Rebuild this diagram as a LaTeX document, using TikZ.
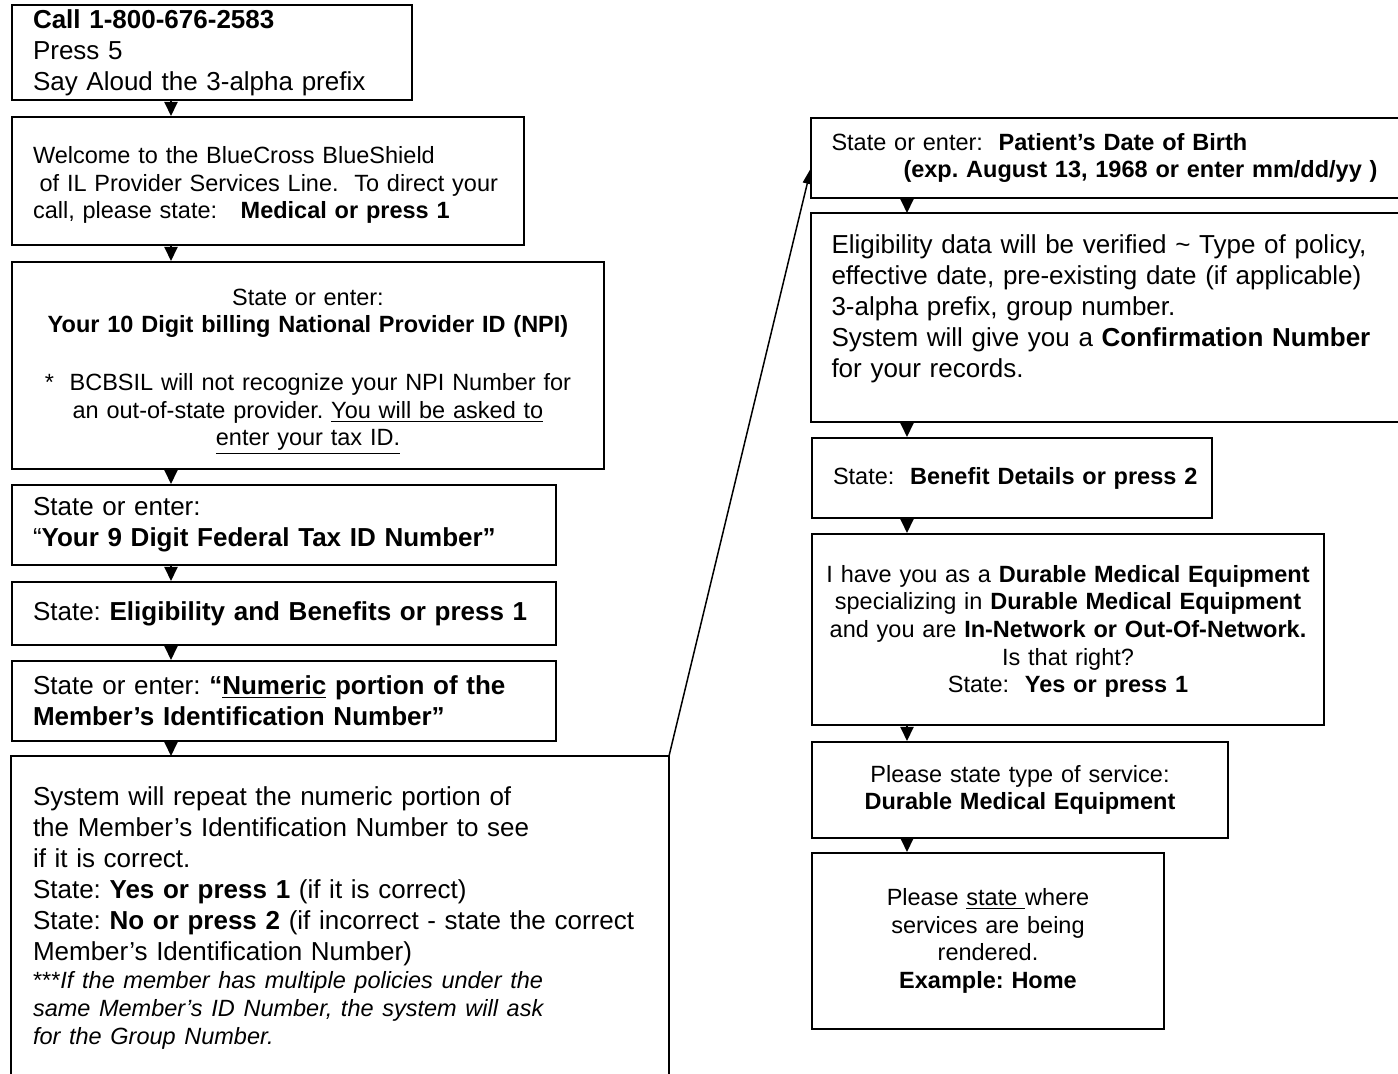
\documentclass[tikz,border=0pt]{standalone}
\usepackage{fontspec}
\setmainfont{Liberation Sans}
\usetikzlibrary{arrows.meta,calc}
\newcommand\szA{\fontsize{13.0pt}{15.5pt}\selectfont}
\newcommand\szB{\fontsize{11.75pt}{13.8pt}\selectfont}
\newcommand\LL[1]{\mbox{#1}}
\frenchspacing
\begin{document}
\begin{tikzpicture}[x=0.5pt,y=-0.5pt,
  box/.style={draw=black, line width=1pt, inner sep=0pt, anchor=north west, align=left},
  obox/.style={box, draw=none},
  cbox/.style={box, align=center},
  edge/.style={line width=1pt, line join=miter},
  tri/.style={line width=1pt, -{Triangle[length=7pt,width=6.5pt]}},
  slant/.style={line width=0.75pt, -{Triangle[length=8pt,width=4.5pt]}}]
\useasboundingbox (0,0) rectangle (1398,1074);

% ---------------- left column ----------------
\node[box, minimum width=200pt, minimum height=47.5pt, text width=179pt, font=\szA] (b1) at (11,4)
 {\LL{\textbf{Call 1-800-676-2583}}\\ \LL{Press 5}\\ \LL{Say Aloud the 3-alpha prefix}};

\node[box, minimum width=256pt, minimum height=64pt, text width=235pt, font=\szB] (b2) at (11,116)
 {\LL{\rule{0pt}{12.5pt}Welcome to the BlueCross BlueShield}\\
  \LL{\hspace*{0.28em}of IL Provider Services Line.~ To direct your}\\
  \LL{call, please state:~~ \textbf{Medical or press 1}}};

\node[cbox, minimum width=296pt, minimum height=103.5pt, text width=290pt, font=\szB] (b3) at (11,261)
 {\rule{0pt}{14.5pt}State or enter:\\
  \textbf{Your 10 Digit billing National Provider ID (NPI)}\\[15pt]
  *~ BCBSIL will not recognize your NPI Number for\\
  an out-of-state provider. \underline{You will be asked to}\\
  \underline{enter your tax ID.}};

\node[box, minimum width=272pt, minimum height=40pt, text width=251pt, font=\szA] (b4) at (11,484)
 {\LL{State or enter:}\\ \LL{“\textbf{Your 9 Digit Federal Tax ID Number”}}};

\node[box, minimum width=272pt, minimum height=31.5pt, text width=251pt, font=\szA] (b5) at (11,581)
 {\LL{State: \textbf{Eligibility and Benefits or press 1}}};

\node[box, minimum width=272pt, minimum height=40pt, text width=251pt, font=\szA] (b6) at (11,660)
 {\LL{State or enter: \textbf{“\underline{Numeric} portion of the}}\\
  \LL{\textbf{Member’s Identification Number”}}};

\node[obox, minimum width=328pt, minimum height=159pt, text width=307pt, font=\szA] (b7) at (11,756)
 {\LL{\rule{0pt}{11.6pt}System will repeat the numeric portion of}\\
  \LL{the Member’s Identification Number to see}\\
  \LL{if it is correct.}\\
  \LL{State: \textbf{Yes or press 1} (if it is correct)}\\
  \LL{State: \textbf{No or press 2} (if incorrect - state the correct}\\
  \LL{Member’s Identification Number)}\\[-1.5pt]
  \LL{\szB ***\itshape If the member has multiple policies under the}\\[-1.5pt]
  \LL{\szB\itshape same Member’s ID Number, the system will ask}\\[-1.5pt]
  \LL{\szB\itshape for the Group Number.}};
\draw[edge] (b7.south west) -- (b7.north west) -- (b7.north east) -- (b7.south east);

% ---------------- right column ----------------
\node[obox, minimum width=293.5pt, minimum height=39pt, text width=274pt, font=\szB] (b8) at (811,118)
 {\LL{State or enter:~ \textbf{Patient’s Date of Birth}}\\
  \LL{\hspace*{36pt}\textbf{(exp. August 13, 1968 or enter mm/dd/yy )}}};
\draw[edge] (b8.north east) -- (b8.north west) -- (b8.south west) -- (b8.south east);

\node[obox, minimum width=293.5pt, minimum height=103.5pt, text width=274pt, font=\szA] (b9) at (811,213)
 {\LL{Eligibility data will be verified \textasciitilde\ Type of policy,}\\
  \LL{effective date, pre-existing date (if applicable)}\\
  \LL{3-alpha prefix, group number.}\\
  \LL{System will give you a \textbf{Confirmation Number}}\\
  \LL{for your records.}\\[-4pt]\mbox{}};
\draw[edge] (b9.north east) -- (b9.north west) -- (b9.south west) -- (b9.south east);

\node[box, minimum width=200pt, minimum height=40pt, text width=179pt, font=\szB] (b10) at (811,437)
 {\LL{State:~ \textbf{Benefit Details or press 2}}};

\node[cbox, minimum width=256pt, minimum height=95.5pt, text width=252pt, font=\szB] (b11) at (811,533)
 {\rule{0pt}{10.5pt}I have you as a \textbf{Durable Medical Equipment}\\
  specializing in \textbf{Durable Medical Equipment}\\
  and you are \textbf{In-Network or Out-Of-Network.}\\
  Is that right?\\
  State:~ \textbf{Yes or press 1}};

\node[cbox, minimum width=208pt, minimum height=48pt, text width=204pt, font=\szB] (b12) at (811,741)
 {Please state type of service:\\ \textbf{Durable Medical Equipment}};

\node[cbox, minimum width=176pt, minimum height=88pt, text width=160pt, font=\szB] (b13) at (811,852)
 {Please \underline{state }where\\ services are being\\ rendered.\\ \textbf{Example: Home}};

% ---------------- connectors ----------------
\draw[tri] ([xshift=80pt]b1.south west) -- ([xshift=80pt]b2.north west);
\draw[tri] ([xshift=80pt]b2.south west) -- ([xshift=80pt]b3.north west);
\draw[tri] ([xshift=80pt]b3.south west) -- ([xshift=80pt]b4.north west);
\draw[tri] ([xshift=80pt]b4.south west) -- ([xshift=80pt]b5.north west);
\draw[tri] ([xshift=80pt]b5.south west) -- ([xshift=80pt]b6.north west);
\draw[tri] ([xshift=80pt]b6.south west) -- ([xshift=80pt]b7.north west);
\draw[slant] (b7.north east) -- ([yshift=-5pt]b8.west);
\draw[tri] ([xshift=48pt]b8.south west) -- ([xshift=48pt]b9.north west);
\draw[tri] ([xshift=48pt]b9.south west) -- ([xshift=48pt]b10.north west);
\draw[tri] ([xshift=48pt]b10.south west) -- ([xshift=48pt]b11.north west);
\draw[tri] ([xshift=48pt]b11.south west) -- ([xshift=48pt]b12.north west);
\draw[tri] ([xshift=48pt]b12.south west) -- ([xshift=48pt]b13.north west);
\end{tikzpicture}
\end{document}
